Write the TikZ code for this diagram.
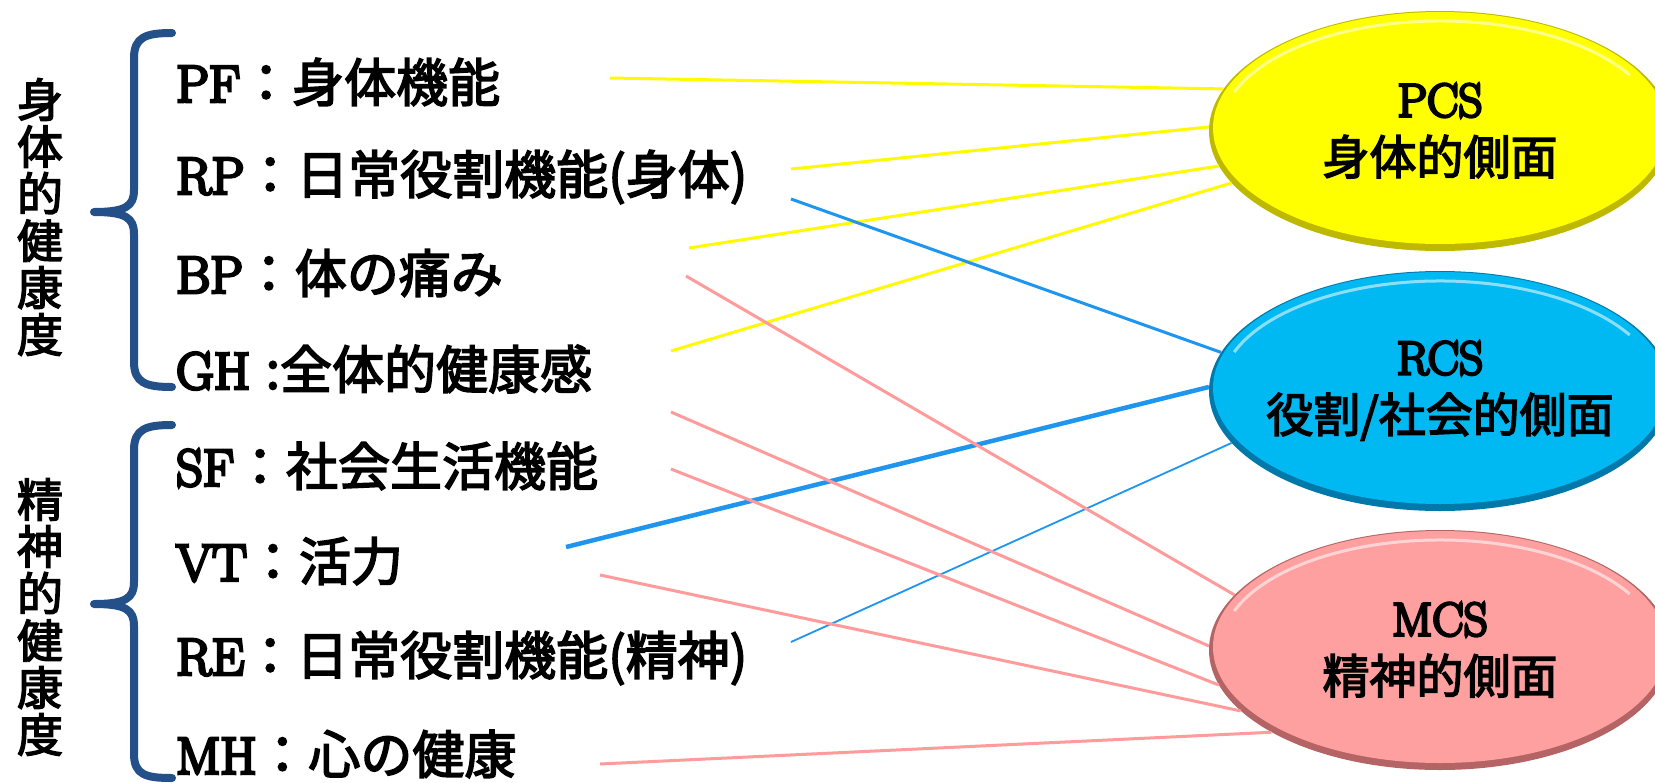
\documentclass[tikz,border=0pt]{standalone}
\usepackage{fontspec}
\setmainfont{Latin Modern Roman}[FakeBold=6]
\newfontfamily\jp{Noto Sans CJK JP}[FakeBold=3]
\usetikzlibrary{shapes.geometric}
\definecolor{brc}{RGB}{36,80,138}
\definecolor{lnY}{RGB}{255,250,0}
\definecolor{lnB}{RGB}{30,150,240}
\definecolor{lnP}{RGB}{255,155,155}
\definecolor{pcsF}{RGB}{255,255,0}
\definecolor{pcsD}{RGB}{190,185,0}
\definecolor{rcsF}{RGB}{0,185,242}
\definecolor{rcsD}{RGB}{0,120,170}
\definecolor{mcsF}{RGB}{255,160,160}
\definecolor{mcsD}{RGB}{180,100,100}
\begin{document}
\begin{tikzpicture}[x=1pt,y=-1pt,
  lbl/.style={anchor=west, inner sep=0pt, font=\fontsize{52}{60}\selectfont},
  vcol/.style={align=center, inner sep=0pt, font=\jp\fontsize{46}{47}\selectfont},
  comp/.style 2 args={ellipse, minimum width=462pt, minimum height=240pt, inner sep=0pt, align=center,
    font=\fontsize{47}{58}\selectfont, fill=#2,
    path picture={
      \fill[#1] ([yshift=3pt]path picture bounding box.center) ellipse [x radius=227, y radius=116];
      \draw[white, opacity=.55, line width=3pt] ([yshift=2pt]path picture bounding box.center) ++(200:219 and 108) arc[start angle=200, end angle=330, x radius=219, y radius=108];
    }},
  bracepath/.style={draw=brc, line width=8pt, line cap=round, line join=round},
  ycon/.style={draw=lnY, line width=3pt},
  bcon/.style={draw=lnB, line width=3pt},
  pcon/.style={draw=lnP, line width=3pt}]
\fill[white] (0,0) rectangle (1655,782);
\useasboundingbox (0,0) rectangle (1655,782);

% components
\node[comp={pcsF}{pcsD}] (pcs) at (1440,131) {PCS\\\makebox[300pt]{\jp 身体的側面}};
\node[comp={rcsF}{rcsD}] (rcs) at (1440,391) {RCS\\\makebox[300pt]{\jp 役割/社会的側面}};
\node[comp={mcsF}{mcsD}] (mcs) at (1440,650) {MCS\\\makebox[300pt]{\jp 精神的側面}};

% vertical group labels
\node[vcol] (phys) at (40,217) {身\\体\\的\\健\\康\\度};
\node[vcol] (ment) at (40,617) {精\\神\\的\\健\\康\\度};

% braces
\draw[bracepath] (172,33) .. controls (146,33) and (134,37) .. (134,58) -- (134,190) .. controls (134,206) and (126,212) .. (94,212) .. controls (126,212) and (134,218) .. (134,234) -- (134,362) .. controls (134,383) and (146,387) .. (172,387);
\draw[bracepath] (172,425) .. controls (146,425) and (134,429) .. (134,450) -- (134,582) .. controls (134,598) and (126,604) .. (94,604) .. controls (126,604) and (134,610) .. (134,626) -- (134,754) .. controls (134,775) and (146,778) .. (172,778);

% item labels
\node[lbl] (pf) at (176,82) {PF{\jp ：身体機能}};
\node[lbl] (rp) at (176,177) {RP{\jp ：日常役割機能(身体)}};
\node[lbl] (bp) at (176,273) {BP{\jp ：体の痛み}};
\node[lbl] (gh) at (176,369) {GH {\jp :全体的健康感}};
\node[lbl] (sf) at (176,466) {SF{\jp ：社会生活機能}};
\node[lbl] (vt) at (176,561) {VT{\jp ：活力}};
\node[lbl] (re) at (176,658) {RE{\jp ：日常役割機能(精神)}};
\node[lbl] (mh) at (176,754) {MH{\jp ：心の健康}};

% connector start points
\coordinate (pfS) at (610,78);
\coordinate (rpSy) at (791,169);
\coordinate (rpSb) at (791,199);
\coordinate (bpSy) at (689,248);
\coordinate (bpSp) at (686,276);
\coordinate (ghSy) at (671,351);
\coordinate (ghSp) at (671,412);
\coordinate (sfSp) at (671,469);
\coordinate (vtSb) at (566,547);
\coordinate (vtSp) at (600,575);
\coordinate (reSb) at (791,642);
\coordinate (mhSp) at (600,764);

% connectors
\draw[ycon] (pfS) -- (pcs.169);
\draw[ycon] (rpSy) -- (pcs.179);
\draw[ycon] (bpSy) -- (pcs.189);
\draw[ycon] (ghSy) -- (pcs.194);
\draw[bcon] (rpSb) -- (rcs.170);
\draw[bcon, line width=4.5pt] (vtSb) -- (rcs.179);
\draw[bcon, line width=1.8pt] (reSb) -- (rcs.194);
\draw[pcon] (bpSp) -- (mcs.165);
\draw[pcon] (ghSp) -- (mcs.179);
\draw[pcon] (sfSp) -- (mcs.189);
\draw[pcon] (vtSp) -- (mcs.197);
\draw[pcon] (mhSp) -- (mcs.206);
\end{tikzpicture}
\end{document}
